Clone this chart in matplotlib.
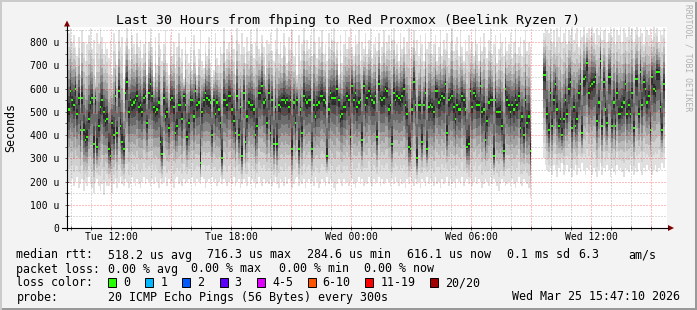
import numpy as np
import matplotlib
matplotlib.use("Agg")
import matplotlib.pyplot as plt
from matplotlib.patches import Rectangle, Polygon
from matplotlib.lines import Line2D

W, H = 697, 310
MONO = "DejaVu Sans Mono"
nan = np.nan

# ping rtt per 5 minute step (Tue 09:50 ... Wed 15:35), units of 10 us
median_10us = [
    51, 59, 55, 53, 60, 49, 56, 42, 56, 42, 38, 39, 47, 54, 56, 36, 56, 35, 44, 52, 55, 50, 46, 47,
    34, 31, 45, 40, 57, 41, 59, 44, 37, 34, 58, 63, 50, 55, 53, 54, 55, 57, 52, 53, 50, 56, 57, 45,
    58, 62, 57, 52, 50, 51, 54, 37, 32, 56, 48, 50, 43, 55, 56, 52, 41, 44, 53, 53, 47, 57, 53, 39,
    45, 55, 55, 48, 59, 53, 54, 28, 50, 55, 58, 56, 55, 54, 40, 55, 49, 54, 51, 45, 30, 55, 55, 53,
    57, 57, 51, 46, 41, 57, 40, 52, 31, 58, 37, 48, 54, 53, 53, 51, 40, 44, 58, 58, 61, 54, 55, 45,
    58, 41, 55, 36, 52, 36, 53, 52, 55, 55, 54, 55, 52, 55, 34, 54, 45, 55, 34, 51, 41, 57, 55, 54,
    55, 55, 34, 53, 48, 53, 54, 57, 57, 55, 54, 31, 51, 58, 56, 56, 56, 60, 55, 48, 49, 52, 52, 57,
    55, 39, 61, 55, 58, 52, 54, 55, 38, 61, 53, 56, 59, 57, 55, 54, 57, 39, 62, 56, 55, 56, 60, 59,
    51, 53, 36, 58, 55, 57, 56, 55, 57, 60, 53, 49, 35, 34, 51, 63, 53, 30, 53, 53, 37, 53, 58, 34,
    52, 53, 52, 50, 59, 59, 54, 55, 57, 56, 62, 41, 55, 56, 57, 52, 47, 53, 51, 51, 57, 55, 51, 35,
    36, 59, 52, 58, 57, 53, 53, 61, 50, 51, 38, 46, 54, 55, 55, 31, 55, 50, 50, 50, 44, 33, 60, 55,
    53, 50, 53, 51, 55, 53, 57, 43, 48, 40, 55, 45, 48, 33, nan, nan, nan, nan, nan, nan, nan, 66, 66, 49,
    42, 58, 44, 55, 62, 51, 44, 47, 40, 47, 55, 49, 60, 63, 43, 52, 44, 47, 58, 62, 41, 64, 65, 71,
    58, 61, 62, 63, 65, 46, 54, 72, 44, 63, 51, 45, 65, 65, 44, 54, 44, 58, 49, 49, 52, 54, 62, 49,
    53, 49, 58, 43, 64, 64, 49, 67, 53, 63, 60, 54, 57, 42, 65, 60, 59, 67, 67, 52, 42, 62,
]
max_10us = [
    84, 86, 80, 83, 78, 74, 82, 66, 85, 80, 72, 79, 83, 86, 77, 81, 64, 84, 79, 86, 82, 75, 80, 77,
    73, 81, 66, 84, 79, 70, 85, 78, 82, 64, 80, 86, 77, 72, 83, 79, 75, 84, 78, 81, 73, 79, 85, 66,
    80, 86, 78, 65, 82, 70, 84, 77, 72, 79, 85, 71, 66, 83, 74, 80, 69, 78, 84, 73, 77, 64, 82, 75,
    71, 78, 68, 83, 74, 66, 77, 85, 72, 69, 79, 74, 82, 71, 65, 68, 84, 73, 70, 78, 75, 86, 72, 77,
    80, 74, 83, 77, 66, 86, 79, 75, 84, 78, 71, 82, 76, 85, 79, 73, 80, 86, 77, 74, 83, 78, 66, 81,
    79, 84, 76, 72, 81, 86, 75, 80, 73, 84, 78, 71, 82, 77, 85, 74, 80, 66, 83, 72, 79, 86, 75, 81,
    77, 83, 74, 86, 80, 73, 82, 78, 85, 75, 79, 72, 84, 77, 81, 86, 74, 80, 66, 83, 71, 79, 85, 77,
    82, 86, 78, 74, 83, 79, 85, 72, 80, 77, 84, 75, 81, 86, 73, 79, 82, 76, 84, 71, 78, 85, 74, 80,
    83, 76, 81, 86, 74, 79, 72, 84, 77, 82, 75, 80, 86, 73, 78, 85, 76, 81, 74, 83, 79, 72, 84, 77,
    80, 86, 75, 79, 83, 72, 78, 85, 74, 81, 77, 84, 73, 80, 86, 76, 79, 82, 74, 85, 78, 72, 81, 76,
    83, 77, 80, 74, 86, 79, 72, 82, 76, 84, 78, 73, 81, 86, 75, 79, 83, 71, 77, 84, 80, 74, 82, 76,
    79, 84, 73, 80, 86, 75, 78, 82, 74, 81, 85, 76, 80, 78, nan, nan, nan, nan, nan, nan, nan, 84, 86, 85,
    84, 86, 80, 85, 78, 86, 82, 87, 80, 84, 86, 79, 85, 83, 87, 81, 84, 86, 78, 85, 82, 87, 80, 84,
    86, 82, 87, 84, 79, 86, 83, 87, 81, 85, 86, 80, 84, 87, 82, 86, 79, 85, 83, 87, 80, 86, 84, 82,
    87, 83, 86, 80, 85, 87, 82, 86, 84, 79, 87, 85, 83, 86, 81, 87, 84, 86, 80, 85, 83, 86,
]
min_10us = [
    20, 19, 21, 18, 20, 22, 17, 19, 21, 16, 20, 18, 22, 19, 17, 15, 20, 21, 18, 16, 19, 14, 20, 18,
    18, 20, 15, 19, 21, 17, 20, 22, 19, 18, 21, 20, 17, 19, 22, 20, 18, 21, 19, 17, 20, 22, 19, 21,
    20, 18, 21, 19, 22, 20, 17, 21, 19, 20, 22, 18, 21, 19, 20, 17, 21, 22, 19, 20, 18, 21, 19, 20,
    21, 19, 22, 20, 18, 21, 20, 19, 22, 21, 17, 20, 21, 19, 22, 20, 21, 18, 20, 22, 19, 21, 20, 18,
    20, 21, 19, 22, 18, 20, 21, 17, 19, 21, 20, 18, 22, 19, 21, 20, 17, 19, 22, 20, 18, 21, 19, 20,
    19, 21, 18, 20, 22, 19, 17, 21, 20, 18, 22, 19, 21, 20, 17, 19, 21, 22, 18, 20, 19, 21, 17, 20,
    21, 19, 20, 18, 22, 20, 17, 19, 21, 20, 18, 22, 19, 21, 20, 17, 16, 19, 21, 20, 18, 21, 19, 20,
    18, 20, 21, 19, 17, 20, 22, 19, 21, 18, 20, 19, 22, 20, 18, 21, 19, 20, 22, 18, 21, 19, 20, 21,
    20, 18, 21, 19, 22, 20, 18, 21, 19, 20, 17, 21, 19, 22, 20, 18, 21, 19, 20, 17, 21, 20, 18, 22,
    19, 21, 20, 18, 22, 19, 20, 17, 21, 19, 20, 22, 18, 21, 19, 20, 17, 21, 20, 19, 22, 18, 20, 21,
    19, 21, 18, 20, 22, 19, 21, 20, 17, 19, 21, 20, 18, 22, 19, 21, 20, 18, 16, 19, 21, 20, 18, 19,
    20, 18, 21, 19, 17, 20, 22, 19, 18, 21, 20, 19, 17, 13, nan, nan, nan, nan, nan, nan, nan, 30, 27, 25,
    24, 26, 23, 27, 25, 22, 26, 24, 28, 23, 25, 27, 24, 26, 22, 25, 27, 23, 26, 24, 28, 25, 23, 26,
    25, 27, 23, 26, 24, 22, 25, 28, 23, 26, 24, 27, 25, 22, 26, 24, 23, 27, 25, 26, 24, 22, 26, 25,
    24, 27, 25, 23, 26, 24, 28, 25, 23, 26, 24, 27, 25, 26, 23, 25, 27, 24, 26, 25, 28, 26,
]

first_step_h = 9 + 50 / 60          # hours since Tue 00:00
step_h = 5 / 60
view_h = (9 + 47 / 60, 39 + 47 / 60)

time_ticks = [12, 18, 24, 30, 36]
time_labels = ["Tue 12:00", "Tue 18:00", "Wed 00:00", "Wed 06:00", "Wed 12:00"]
rtt_ticks = [0, 100, 200, 300, 400, 500, 600, 700, 800]
rtt_labels = ["0", "100 u", "200 u", "300 u", "400 u", "500 u", "600 u", "700 u", "800 u"]

title = "Last 30 Hours from fhping to Red Proxmox (Beelink Ryzen 7)"
rtt_stats = [("518.2 us avg", 107.6), ("716.3 us max", 207), ("284.6 us min", 306.7),
             ("616.1 us now", 406.7), ("0.1 ms sd", 506.7), ("6.3", 578.5), ("am/s", 628)]
loss_stats = [("0.00 % avg", 107.6), ("0.00 % max", 191.1), ("0.00 % min", 279.1),
              ("0.00 % now", 364.4)]
loss_labels = ["0", "1", "2", "3", "4-5", "6-10", "11-19", "20/20"]
loss_colors = ["#26ff00", "#00b8ff", "#0059ff", "#5e00ff", "#dd00ff", "#ff5500", "#ff0000", "#a10000"]
loss_box_x = [108, 145.3, 182.2, 219.6, 257, 307.6, 365.3, 430.2]
probe_text = "20 ICMP Echo Pings (56 Bytes) every 300s"
stamp = "Wed Mar 25 15:47:10 2026"

# smoke shading, outer to inner
smoke_frac = [1.0, 0.82, 0.66, 0.52, 0.4, 0.29, 0.18, 0.08]
smoke_color = ["#e0e0e0", "#d0d0d0", "#bbbbbb", "#a2a2a2", "#878787", "#6b6b6b", "#4e4e4e", "#2c2c2c"]


def px(x, y):
    return x / W, 1 - y / H


fig = plt.figure(figsize=(W / 100, H / 100), dpi=100, facecolor="#f3f3f3")
ax = fig.add_axes([67 / W, (H - 228) / H, 600 / W, 201 / H])
ax.set_facecolor("white")
ax.set_xlim(*view_h)
ax.set_ylim(0, 865)

med = np.array(median_10us, float) * 10
top = np.array(max_10us, float) * 10
bot = np.array(min_10us, float) * 10
t = first_step_h + step_h * np.arange(len(med))
ok = ~np.isnan(med)

for f, c in zip(smoke_frac, smoke_color):
    lo = med - f * (med - bot)
    hi = med + f * (top - med)
    ax.bar(t[ok], (hi - lo)[ok], bottom=lo[ok], width=step_h, align="edge",
           color=c, linewidth=0, antialiased=False, zorder=2)
ax.bar(t[ok], 9, bottom=med[ok] - 4.5, width=step_h, align="edge",
       color=loss_colors[0], linewidth=0, antialiased=False, zorder=3)

# dotted grid on top of the data, rrdtool style
dots = (0, (1, 2))
for y in range(50, 900, 50):
    major = y % 100 == 0
    ax.axhline(y, color="#ff0000" if major else "#707070", alpha=0.5 if major else 0.5,
               lw=0.72, ls=dots, snap=True, zorder=4)
for h in range(10, 40):
    major = h % 3 == 0
    ax.axvline(h, color="#ff0000" if major else "#707070", alpha=0.5 if major else 0.5,
               lw=0.72, ls=dots, snap=True, zorder=4)

for s in ax.spines.values():
    s.set_visible(False)
ax.set_xticks(time_ticks)
ax.set_xticklabels(time_labels, family=MONO, fontsize=7)
ax.set_xticks(range(10, 40), minor=True)
ax.set_yticks(rtt_ticks)
ax.set_yticklabels(rtt_labels, family=MONO, fontsize=7)
ax.set_yticks(range(50, 900, 100), minor=True)
ax.tick_params(which="both", direction="inout", length=2.5, width=0.6, color="#444444")
ax.tick_params(axis="x", pad=1.5)
ax.tick_params(axis="y", pad=4.2)

# axis lines and arrows
fig.add_artist(Line2D([62 / W, 668 / W], [1 - 228 / H] * 2, color="black", lw=0.8))
fig.add_artist(Line2D([67 / W] * 2, [1 - 230 / H, 1 - 26 / H], color="black", lw=0.8))
fig.add_artist(Polygon([px(64, 26.5), px(70, 26.5), px(67, 20.5)], closed=True,
                       facecolor="#7f0000", edgecolor="none"))
fig.add_artist(Polygon([px(668, 225), px(668, 231), px(674, 228)], closed=True,
                       facecolor="#7f0000", edgecolor="none"))

# frame shading
fig.add_artist(Rectangle((0, 0), 1, 2 / H, facecolor="#999999", edgecolor="none"))
fig.add_artist(Rectangle((1 - 2 / W, 0), 2 / W, 1, facecolor="#999999", edgecolor="none"))
fig.add_artist(Rectangle((0, 1 - 2 / H), 1, 2 / H, facecolor="#cbcbcb", edgecolor="none"))
fig.add_artist(Rectangle((0, 0), 2 / W, 1, facecolor="#cbcbcb", edgecolor="none"))

fig.text(*px(347.5, 24), title, family=MONO, fontsize=9.5, ha="center", va="baseline")
fig.text(*px(11, 127), "Seconds", family=MONO, fontsize=8.35, rotation=90,
         ha="center", va="center")
fig.text(*px(688, 58), "RRDTOOL / TOBI OETIKER", family=MONO, fontsize=5.8,
         color="#b0b0b0", rotation=270, ha="center", va="center")

leg = dict(family=MONO, fontsize=8.35, va="baseline")
fig.text(*px(16.4, 258.5), "median rtt:", **leg)
for s, x in rtt_stats:
    fig.text(*px(x, 258.5), s, **leg)
fig.text(*px(16.4, 272.5), "packet loss:", **leg)
for s, x in loss_stats:
    fig.text(*px(x, 272.5), s, **leg)
fig.text(*px(16.4, 286.5), "loss color:", **leg)
for lab, col, x in zip(loss_labels, loss_colors, loss_box_x):
    fig.add_artist(Rectangle(px(x, 286.5), 8 / W, 9 / H, facecolor=col,
                             edgecolor="black", lw=0.7))
    fig.text(*px(x + 15, 286.5), lab, **leg)
fig.text(*px(16.4, 300.5), "probe:", **leg)
fig.text(*px(107.6, 300.5), probe_text, **leg)
fig.text(*px(680, 300.5), stamp, ha="right", **leg)

fig.savefig("out.png", dpi=100, facecolor=fig.get_facecolor())
